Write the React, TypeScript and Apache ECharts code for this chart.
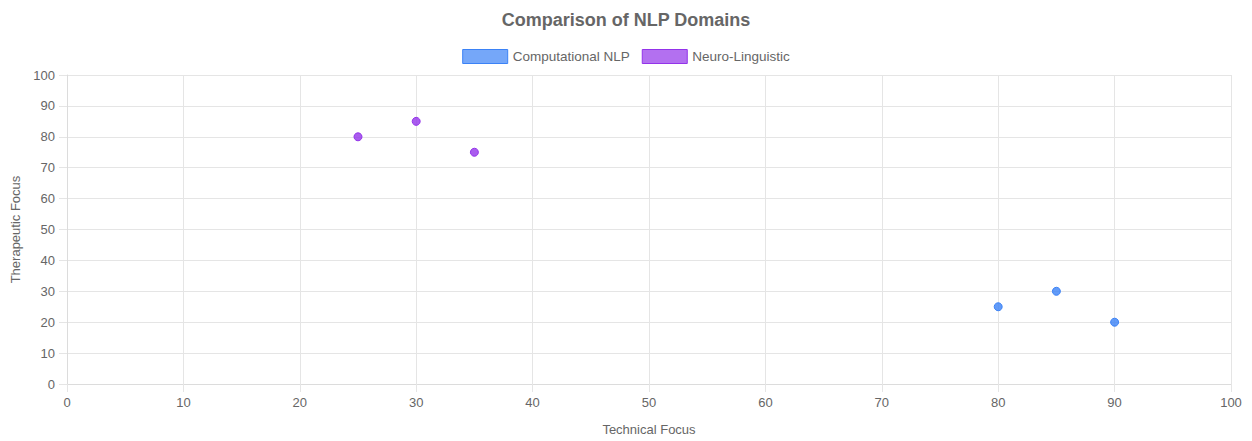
import React, { useEffect, useRef } from "react";
import * as echarts from "echarts";

const title = "Comparison of NLP Domains";
const seriesNames = ["Computational NLP", "Neuro-Linguistic"];
const computationalX = [80, 85, 90];
const computationalY = [25, 30, 20];
const neuroX = [25, 30, 35];
const neuroY = [80, 85, 75];
const xAxisName = "Technical Focus";
const yAxisName = "Therapeutic Focus";

const FONT = "'Liberation Sans', Arial, Helvetica, sans-serif";

export default function App() {
  const ref = useRef<HTMLDivElement>(null);
  useEffect(() => {
    if (!ref.current) return;
    const chart = echarts.init(ref.current, undefined, { renderer: "svg" });
    const axisCommon = {
      min: 0,
      max: 100,
      interval: 10,
      nameLocation: "middle" as const,
      nameTextStyle: { color: "#666", fontSize: 13, fontFamily: FONT },
      axisLine: { show: true, lineStyle: { color: "#dcdcdc", width: 1 } },
      axisTick: { show: true, length: 8, lineStyle: { color: "#e5e5e5" } },
      axisLabel: { color: "#666", fontSize: 13, fontFamily: FONT },
      splitLine: { show: true, lineStyle: { color: "#e5e5e5", width: 1 } },
    };
    chart.setOption({
      animation: false,
      backgroundColor: "#fff",
      title: {
        text: title,
        left: "center",
        top: 6,
        textStyle: { color: "#666", fontSize: 18, fontWeight: "bold", fontFamily: FONT },
      },
      legend: {
        top: 44,
        left: "center",
        itemWidth: 45,
        itemHeight: 14,
        itemGap: 12,
        icon: "rect",
        textStyle: { color: "#666", fontSize: 13.5, fontFamily: FONT },
        data: [
          { name: seriesNames[0], itemStyle: { color: "rgba(59,130,246,0.7)", borderColor: "rgb(59,130,246)", borderWidth: 1 } },
          { name: seriesNames[1], itemStyle: { color: "rgba(147,51,234,0.7)", borderColor: "rgb(147,51,234)", borderWidth: 1 } },
        ],
      },
      grid: { left: 67, right: 21, top: 75, bottom: 54, containLabel: false },
      xAxis: {
        ...axisCommon,
        type: "value",
        name: xAxisName,
        nameGap: 39,
        axisLabel: { ...axisCommon.axisLabel, margin: 12 },
      },
      yAxis: {
        ...axisCommon,
        type: "value",
        name: yAxisName,
        nameGap: 44,
        axisLabel: { ...axisCommon.axisLabel, margin: 12 },
      },
      series: [
        {
          name: seriesNames[0],
          type: "scatter",
          symbolSize: 8,
          data: computationalX.map((x, i) => [x, computationalY[i]]),
          itemStyle: { color: "rgba(59,130,246,0.8)", borderColor: "rgb(59,130,246)", borderWidth: 1, opacity: 1 },
        },
        {
          name: seriesNames[1],
          type: "scatter",
          symbolSize: 8,
          data: neuroX.map((x, i) => [x, neuroY[i]]),
          itemStyle: { color: "rgba(147,51,234,0.8)", borderColor: "rgb(147,51,234)", borderWidth: 1, opacity: 1 },
        },
      ],
    });
    return () => chart.dispose();
  }, []);
  return (
    <div
      ref={ref}
      style={{ position: "fixed", left: 0, top: 0, width: 1252, height: 441 }}
    />
  );
}
